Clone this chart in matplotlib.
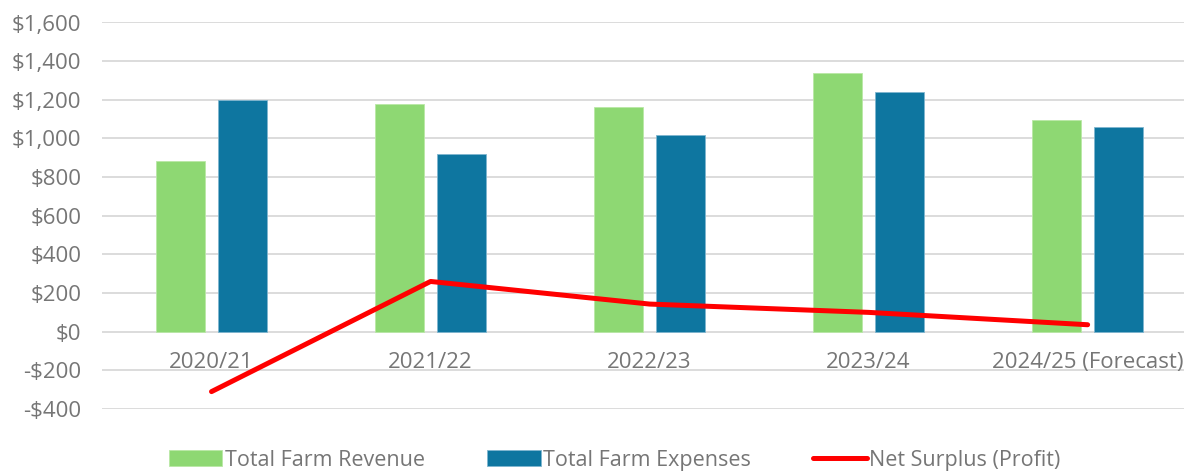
import matplotlib.pyplot as plt
from matplotlib.ticker import FuncFormatter
import numpy as np

plt.rcParams['font.family'] = ['Open Sans', 'DejaVu Sans']

# data
years = ["2020/21", "2021/22", "2022/23", "2023/24", "2024/25 (Forecast)"]
revenue = [884, 1180, 1163, 1339, 1096]
expenses = [1197, 920, 1020, 1239, 1060]
net_surplus = [-310, 260, 143, 100, 36]

GREEN = "#8ED873"
BLUE = "#0E76A0"
GREY = "#767676"


def money(v, pos):
    if v < 0:
        return "-${:,.0f}".format(-v)
    return "${:,.0f}".format(v)


def main():
    fig = plt.figure(figsize=(11.84, 4.73), dpi=100)
    ax = fig.add_axes([102 / 1184, 1 - 409 / 473, 1 - 102 / 1184, (409 - 22.5) / 473])

    x = np.arange(len(years))
    w = 0.223
    off = 0.1415
    b1 = ax.bar(x - off, revenue, w, color=GREEN, edgecolor="#B9E8A6", linewidth=0.6,
                label="Total Farm Revenue", zorder=2)
    b2 = ax.bar(x + off, expenses, w, color=BLUE, edgecolor="#7FB6CF", linewidth=0.6,
                label="Total Farm Expenses", zorder=2)
    ln, = ax.plot(x, net_surplus, color="#FF0000", linewidth=3.6, solid_capstyle="round",
                  label="Net Surplus (Profit)", zorder=3)

    ax.set_ylim(-400, 1600)
    ax.set_yticks(np.arange(-400, 1601, 200))
    ax.yaxis.set_major_formatter(FuncFormatter(money))
    ax.set_xlim(-0.5, 4.44)
    ax.set_xticks([])

    ax.grid(axis="y", color="#D9D9D9", linewidth=1.3, zorder=0)
    ax.set_axisbelow(True)
    for s in ax.spines.values():
        s.set_visible(False)
    ax.tick_params(axis="y", length=0, pad=15, labelsize=16, labelcolor=GREY)

    # category labels sit just under the zero line
    for xi, name in zip(x, years):
        ax.annotate(name, (xi, 0), xytext=(0, -22.5), textcoords="offset points",
                    ha="center", va="center", fontsize=16, color=GREY)

    fig.legend([b1, b2, ln], [b1.get_label(), b2.get_label(), ln.get_label()],
               loc="center", bbox_to_anchor=(0.519, 1 - 460 / 473), ncol=3,
               frameon=False, fontsize=15.5, handlelength=2.5, handleheight=0.8,
               handletextpad=0.1, columnspacing=2.9, labelcolor=GREY)

    fig.savefig("out.png", dpi=100)


if __name__ == '__main__':
    main()
